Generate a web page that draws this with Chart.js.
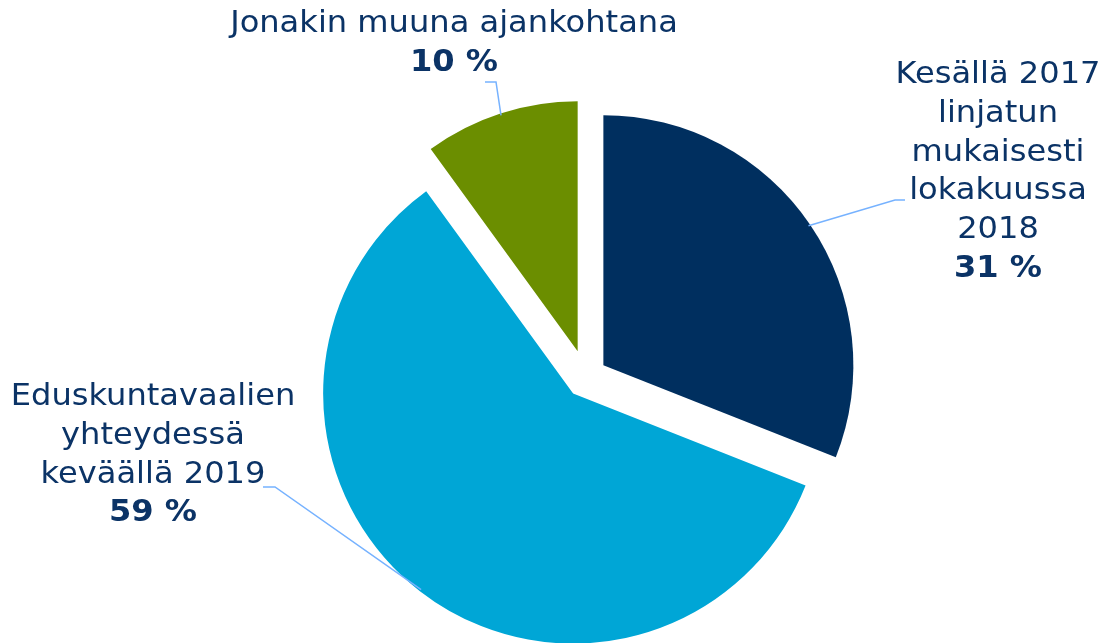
<!DOCTYPE html>
<html>
<head>
<meta charset="utf-8">
<script src="https://cdn.jsdelivr.net/npm/chart.js@4/dist/chart.umd.min.js"></script>
<style>
  html, body { margin: 0; padding: 0; background: #fff; }
  #wrap { width: 1103px; height: 643px; position: relative; }
</style>
</head>
<body>
<div id="wrap"><canvas id="pie"></canvas></div>
<script>
const categories = [
  ['Kesällä 2017', 'linjatun', 'mukaisesti', 'lokakuussa', '2018'],
  ['Eduskuntavaalien', 'yhteydessä', 'keväällä 2019'],
  ['Jonakin muuna ajankohtana']
];
const shares = [31, 59, 10];

const sliceColors = ['#002f5f', '#00a6d6', '#6b8e00'];
const explode = [21, 21, 27];
const textColor = '#0b3366';
const leaderColor = '#76b2ff';
const fontFamily = '"DejaVu Sans", Verdana, sans-serif';
const fontSize = 30;
const widen = 1.07; // DejaVu is a bit narrower than the original Verdana
const lineHeight = 38.8;

// label anchors: text centre x, first baseline y, leader elbow and end
const labelLayout = [
  { x: 998, y: 83, elbow: [895, 200], end: [905, 200] },
  { x: 153, y: 405, elbow: [275, 487], end: [263, 487] },
  { x: 454, y: 32, elbow: [496, 82], end: [485, 82] }
];

const explodePlugin = {
  id: 'explode',
  beforeDatasetDraw(chart, args) {
    const ctx = chart.ctx;
    args.meta.data.forEach((arc, i) => {
      const mid = (arc.startAngle + arc.endAngle) / 2;
      ctx.save();
      ctx.translate(Math.cos(mid) * explode[i], Math.sin(mid) * explode[i]);
      arc.draw(ctx);
      ctx.restore();
    });
    return false;
  }
};

function drawLine(ctx, text, x, y) {
  ctx.save();
  ctx.translate(x, y);
  ctx.scale(widen, 1);
  ctx.fillText(text, 0, 0);
  ctx.restore();
}

const labelPlugin = {
  id: 'sliceLabels',
  afterDraw(chart) {
    const ctx = chart.ctx;
    const arcs = chart.getDatasetMeta(0).data;
    ctx.save();
    arcs.forEach((arc, i) => {
      const lay = labelLayout[i];
      const mid = (arc.startAngle + arc.endAngle) / 2;
      const cx = arc.x + Math.cos(mid) * explode[i];
      const cy = arc.y + Math.sin(mid) * explode[i];
      const sx = cx + Math.cos(mid) * (arc.outerRadius - 2);
      const sy = cy + Math.sin(mid) * (arc.outerRadius - 2);

      ctx.strokeStyle = leaderColor;
      ctx.lineWidth = 1.5;
      ctx.beginPath();
      ctx.moveTo(sx, sy);
      ctx.lineTo(lay.elbow[0], lay.elbow[1]);
      ctx.lineTo(lay.end[0], lay.end[1]);
      ctx.stroke();

      ctx.fillStyle = textColor;
      ctx.textAlign = 'center';
      ctx.textBaseline = 'alphabetic';
      ctx.font = `${fontSize}px ${fontFamily}`;
      const lines = categories[i];
      lines.forEach((line, j) => {
        drawLine(ctx, line, lay.x, lay.y + j * lineHeight);
      });
      ctx.font = `bold ${fontSize}px ${fontFamily}`;
      drawLine(ctx, `${shares[i]} %`, lay.x, lay.y + lines.length * lineHeight);
    });
    ctx.restore();
  }
};

new Chart(document.getElementById('pie'), {
  type: 'pie',
  data: {
    labels: categories.map(c => c.join(' ')),
    datasets: [{
      data: shares,
      backgroundColor: sliceColors,
      borderWidth: 0
    }]
  },
  options: {
    responsive: true,
    maintainAspectRatio: false,
    animation: false,
    radius: 250,
    layout: { padding: { left: 69, right: 0, top: 111, bottom: 0 } },
    plugins: {
      legend: { display: false },
      tooltip: { enabled: false }
    }
  },
  plugins: [explodePlugin, labelPlugin]
});
</script>
</body>
</html>
